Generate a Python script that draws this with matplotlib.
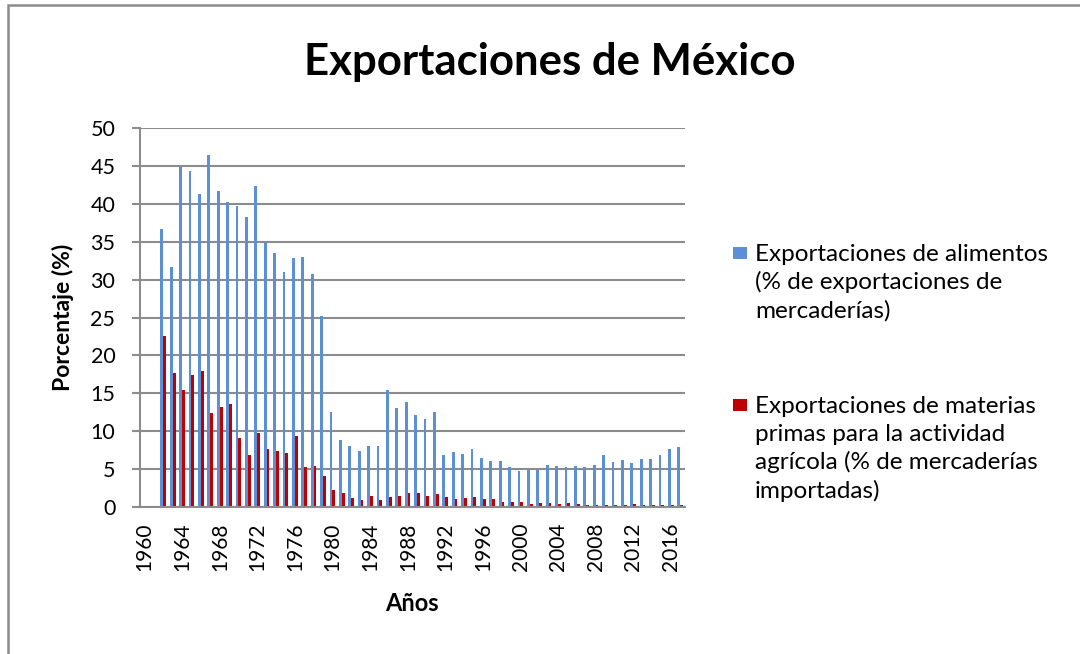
import matplotlib
matplotlib.use("Agg")
import matplotlib.pyplot as plt
from matplotlib.patches import Rectangle
import numpy as np

years = list(range(1960, 2018))
alimentos = [None, None,
             36.7, 31.6, 44.9, 44.3, 41.3, 46.5, 41.7, 40.3, 39.7, 38.3,
             42.4, 35.0, 33.5, 31.0, 32.8, 33.0, 30.8, 25.2, 12.5, 8.9,
             8.0, 7.4, 8.0, 8.0, 15.5, 13.1, 13.8, 12.2, 11.6, 12.5,
             6.9, 7.3, 7.0, 7.7, 6.4, 6.1, 6.1, 5.3, 4.8, 4.9,
             4.9, 5.5, 5.4, 5.3, 5.4, 5.3, 5.5, 6.9, 6.0, 6.2,
             5.8, 6.3, 6.3, 6.9, 7.7, 7.9]
materias = [None, None,
            22.5, 17.7, 15.4, 17.4, 17.9, 12.4, 13.2, 13.6, 9.1, 6.8,
            9.8, 7.6, 7.4, 7.1, 9.4, 5.3, 5.4, 4.1, 2.3, 1.8,
            1.2, 0.9, 1.4, 0.9, 1.3, 1.4, 1.8, 1.9, 1.5, 1.7,
            1.3, 1.1, 1.2, 1.3, 1.1, 1.0, 0.7, 0.6, 0.6, 0.4,
            0.5, 0.5, 0.45, 0.5, 0.4, 0.3, 0.3, 0.3, 0.3, 0.3,
            0.4, 0.3, 0.3, 0.3, 0.2, 0.2]
tick_years = list(range(1960, 2018, 4))
label_alim = ["Exportaciones de alimentos", "(% de exportaciones de",
              "mercaderías)"]
label_mat = ["Exportaciones de materias", "primas para la actividad",
             "agrícola (% de mercaderías", "importadas)"]

FONT = "Lato"
BLUE = "#5B8FD6"
RED = "#C00000"
GRID = "#8C8C8C"

W, H = 1080, 654
fig = plt.figure(figsize=(W / 100, H / 100), dpi=100)
fig.patch.set_facecolor("white")

# outer chart border
fig.patches.append(Rectangle((8 / W, -0.02), 1.05, 1 - 5 / H + 0.02,
                             transform=fig.transFigure, fill=False,
                             edgecolor="#8C8C8C", linewidth=1.8))

ax = fig.add_axes([140 / W, 1 - 507 / H, (685 - 140) / W, (507 - 128) / H])

x = np.arange(len(years))
a = np.array([np.nan if v is None else v for v in alimentos], dtype=float)
m = np.array([np.nan if v is None else v for v in materias], dtype=float)
bw = 0.3
ax.bar(x + 0.5 - bw / 2 - 0.02, np.nan_to_num(a), width=bw, color=BLUE, linewidth=0)
ax.bar(x + 0.5 + bw / 2 - 0.02, np.nan_to_num(m), width=bw, color=RED, linewidth=0)

ax.set_xlim(0, len(years))
ax.set_ylim(0, 50)
ax.set_yticks(np.arange(0, 51, 5))
ax.yaxis.grid(True, color=GRID, linewidth=1.5)
ax.set_axisbelow(True)
for s in ["top", "right"]:
    ax.spines[s].set_visible(False)
for s in ["left", "bottom"]:
    ax.spines[s].set_color(GRID)
    ax.spines[s].set_linewidth(1.5)

tick_pos = [years.index(t) + 0.5 for t in tick_years]
ax.set_xticks(tick_pos)
ax.set_xticklabels([str(t) for t in tick_years], rotation=90, family=FONT,
                   fontsize=15, va="top")
ax.tick_params(axis="x", length=0, pad=11)
ax.tick_params(axis="y", length=5.8, width=1.5, color=GRID, pad=12)
for lab in ax.get_yticklabels():
    lab.set_family(FONT)
    lab.set_fontsize(15.5)

ax.set_ylabel("Porcentaje (%)", family=FONT, fontsize=16.5, fontweight="bold")
ax.yaxis.set_label_coords(-66 / (685 - 140), 0.5)
fig.text(412 / W, 1 - 611 / H, "Años", family=FONT, fontsize=17,
         fontweight="bold", ha="center", va="baseline")

fig.text(550 / W, 1 - 75 / H, "Exportaciones de México", family=FONT,
         fontsize=31.5, fontweight="bold", ha="center", va="baseline")

# legend
line_h = 28.3
for lines, col, base in [(label_alim, BLUE, 261), (label_mat, RED, 412.7)]:
    fig.patches.append(Rectangle((733 / W, 1 - (base - 2) / H), 14 / W, 12 / H,
                                 transform=fig.transFigure, facecolor=col,
                                 edgecolor="none"))
    for k, txt in enumerate(lines):
        fig.text(755 / W, 1 - (base + k * line_h) / H, txt, family=FONT,
                 fontsize=17.5, ha="left", va="baseline")

fig.savefig("out.png", dpi=100, facecolor="white")
